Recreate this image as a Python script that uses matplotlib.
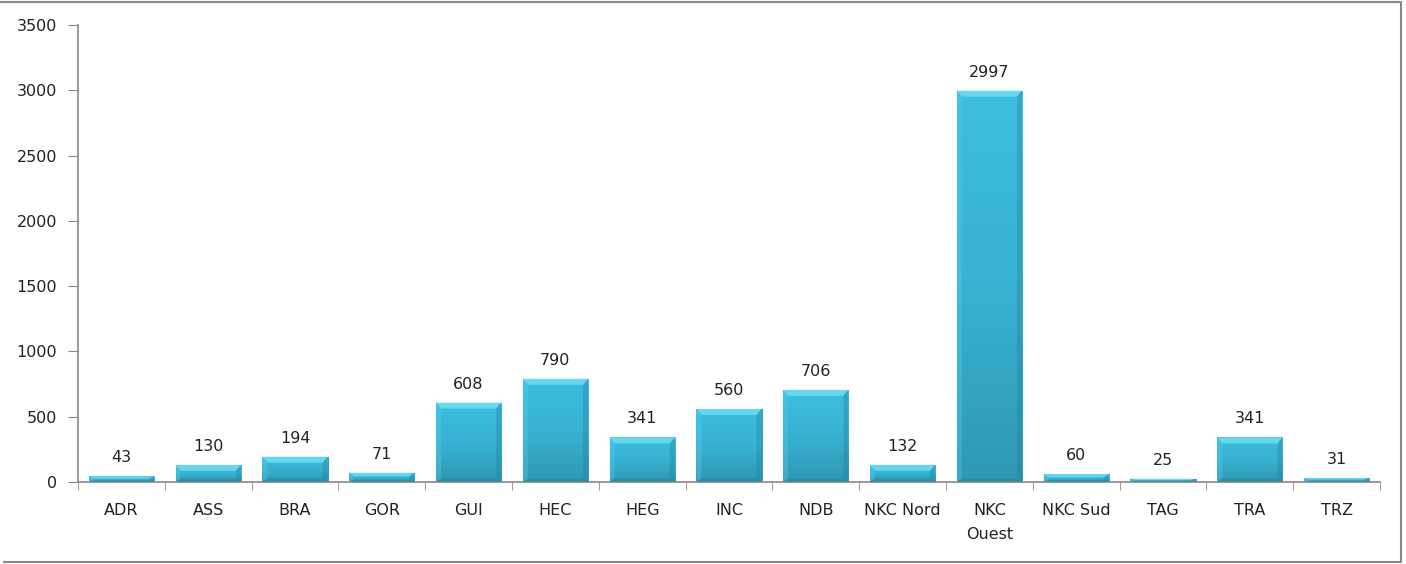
import numpy as np
import matplotlib.pyplot as plt
from matplotlib.colors import LinearSegmentedColormap
from matplotlib.patches import Polygon

categories = ['ADR', 'ASS', 'BRA', 'GOR', 'GUI', 'HEC', 'HEG', 'INC', 'NDB',
              'NKC Nord', 'NKC\nOuest', 'NKC Sud', 'TAG', 'TRA', 'TRZ']
values = [43, 130, 194, 71, 608, 790, 341, 560, 706, 132, 2997, 60, 25, 341, 31]
yticks = [0, 500, 1000, 1500, 2000, 2500, 3000, 3500]

fig = plt.figure(figsize=(14.06, 5.64), dpi=100)
ax = fig.add_axes([0.0555, 0.1454, 0.926, 0.8103])

x = np.arange(len(categories))
width = 0.75
bars = ax.bar(x, values, width=width, color='#37B3D3', edgecolor='#2A8CA6',
              linewidth=0.6, zorder=2)

# one pixel in data units (approx)
py = 3500 / 457.0
px = 1 / 86.8

cmap = LinearSegmentedColormap.from_list('bar', ['#2F98B4', '#37B2D2', '#3DBEE0'])
grad = np.linspace(0, 1, 256).reshape(-1, 1)
for b, v in zip(bars, values):
    x0 = b.get_x()
    x1 = x0 + width
    im = ax.imshow(grad, extent=[x0, x1, 0, v], origin='lower',
                   cmap=cmap, aspect='auto', zorder=2.5)
    im.set_clip_path(b)
    h = min(6 * py, v * 0.4)
    d = 5 * px
    # top bevel (light)
    ax.add_patch(Polygon([(x0, v), (x1, v), (x1 - d, v - h), (x0 + d, v - h)],
                         closed=True, facecolor='#72DDF4', edgecolor='none',
                         alpha=0.8, zorder=3))
    # left bevel (slightly light)
    ax.add_patch(Polygon([(x0, v), (x0 + d, v - h), (x0 + d, h * 0.6), (x0, 0)],
                         closed=True, facecolor='#5ACDEA', edgecolor='none',
                         alpha=0.35, zorder=3))
    # right bevel (dark)
    ax.add_patch(Polygon([(x1, v), (x1 - d, v - h), (x1 - d, h * 0.6), (x1, 0)],
                         closed=True, facecolor='#1F7890', edgecolor='none',
                         alpha=0.3, zorder=3))
    # bottom bevel (dark)
    ax.add_patch(Polygon([(x0, 0), (x1, 0), (x1 - d, h * 0.6), (x0 + d, h * 0.6)],
                         closed=True, facecolor='#1F7890', edgecolor='none',
                         alpha=0.35, zorder=3))
    ax.text(x0 + width / 2, v + 85, str(v), ha='center', va='bottom',
            fontsize=11.5, color='#222222', zorder=4)

ax.set_xlim(-0.5, len(categories) - 0.5)
ax.set_ylim(0, 3500)
ax.set_yticks(yticks)
ax.set_yticklabels([str(t) for t in yticks], fontsize=11.5, color='#222222')
ax.set_xticks(x)
ax.set_xticklabels(categories, fontsize=11.5, va='top', linespacing=1.75,
                   color='#222222')
ax.tick_params(axis='x', length=0, pad=15)
ax.set_xticks(np.arange(-0.5, len(categories), 1), minor=True)
ax.tick_params(axis='x', which='minor', length=6, color='#888888', direction='out')
ax.tick_params(axis='y', length=7, color='#888888', direction='out', pad=8)

for s in ['top', 'right']:
    ax.spines[s].set_visible(False)
for s in ['left', 'bottom']:
    ax.spines[s].set_color('#888888')
    ax.spines[s].set_linewidth(1.2)

# outer frame of the chart (top, right, bottom)
frame_x = [0.0, 0.9965, 0.9965, 0.003]
frame_y = [0.9965, 0.9965, 0.003, 0.003]
fig.add_artist(plt.Line2D(frame_x, frame_y, transform=fig.transFigure,
                          color='#888888', linewidth=1.5))

fig.savefig('out.png', dpi=100)
